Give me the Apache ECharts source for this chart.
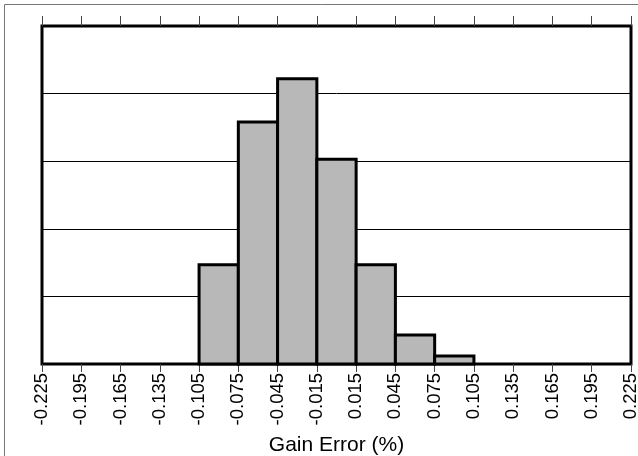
<!DOCTYPE html>
<html>
<head>
<meta charset="utf-8">
<script src="https://cdn.jsdelivr.net/npm/echarts@6/dist/echarts.min.js"></script>
<style>
  html, body { margin: 0; padding: 0; background: #fff; }
  #chart { width: 638px; height: 456px; }
</style>
</head>
<body>
<div id="chart"></div>
<script>
// Bin edges of the gain-error histogram (%), used as axis tick labels
const binEdges = ['-0.225', '-0.195', '-0.165', '-0.135', '-0.105', '-0.075', '-0.045', '-0.015',
                  '0.015', '0.045', '0.075', '0.105', '0.135', '0.165', '0.195', '0.225'];
// Relative frequency for each bin (bin i spans binEdges[i] .. binEdges[i+1])
const frequency = [0, 0, 0, 0, 14.7, 35.8, 42.2, 30.3, 14.7, 4.3, 1.2, 0, 0, 0, 0];
// Vertical scale
const yMax = 50;
const yStep = 10;

const font = '"Liberation Sans", Arial, Helvetica, sans-serif';

const barData = [];
frequency.forEach(function (v, i) {
  if (v > 0) barData.push([i, v]);
});

const chart = echarts.init(document.getElementById('chart'), null, { renderer: 'canvas' });

chart.setOption({
  animation: false,
  backgroundColor: '#fff',
  graphic: [{
    type: 'rect',
    silent: true,
    shape: { x: 4.5, y: 4.5, width: 660, height: 480 },
    style: { fill: 'none', stroke: '#777', lineWidth: 1 },
    z: -10
  }],
  grid: {
    left: 42, top: 26, right: 7, bottom: 92,
    outerBoundsMode: 'none',
    containLabel: false,
    show: true,
    borderColor: '#000',
    borderWidth: 3,
    backgroundColor: 'transparent'
  },
  xAxis: [{
    type: 'category',
    data: binEdges,
    boundaryGap: false,
    position: 'bottom',
    axisLine: { show: false },
    axisTick: { show: true, interval: 0, length: 8, lineStyle: { color: '#444', width: 1 } },
    axisLabel: {
      rotate: 90,
      margin: 9,
      interval: 0,
      color: '#000',
      fontSize: 18.5,
      fontFamily: font
    },
    splitLine: { show: false },
    name: 'Gain Error (%)',
    nameLocation: 'middle',
    nameGap: 71,
    nameTextStyle: { color: '#000', fontSize: 21, fontFamily: font }
  }, {
    type: 'category',
    data: binEdges,
    boundaryGap: false,
    position: 'top',
    axisLine: { show: false },
    axisTick: { show: true, interval: 0, length: 10, lineStyle: { color: '#444', width: 1 } },
    axisLabel: { show: false, interval: 0 },
    splitLine: { show: false }
  }],
  yAxis: {
    type: 'value',
    min: 0,
    max: yMax,
    interval: yStep,
    axisLine: { show: false },
    axisTick: { show: false },
    axisLabel: { show: false },
    splitLine: { show: true, lineStyle: { color: '#000', width: 1 } }
  },
  series: [{
    type: 'custom',
    xAxisIndex: 0,
    data: barData,
    renderItem: function (params, api) {
      const i = api.value(0);
      const v = api.value(1);
      const p0 = api.coord([i, v]);
      const p1 = api.coord([i + 1, 0]);
      return {
        type: 'rect',
        shape: { x: p0[0], y: p0[1], width: p1[0] - p0[0], height: p1[1] - p0[1] },
        style: { fill: '#b8b8b8', stroke: '#000', lineWidth: 3 }
      };
    },
    z: 5
  }]
});
</script>
</body>
</html>
